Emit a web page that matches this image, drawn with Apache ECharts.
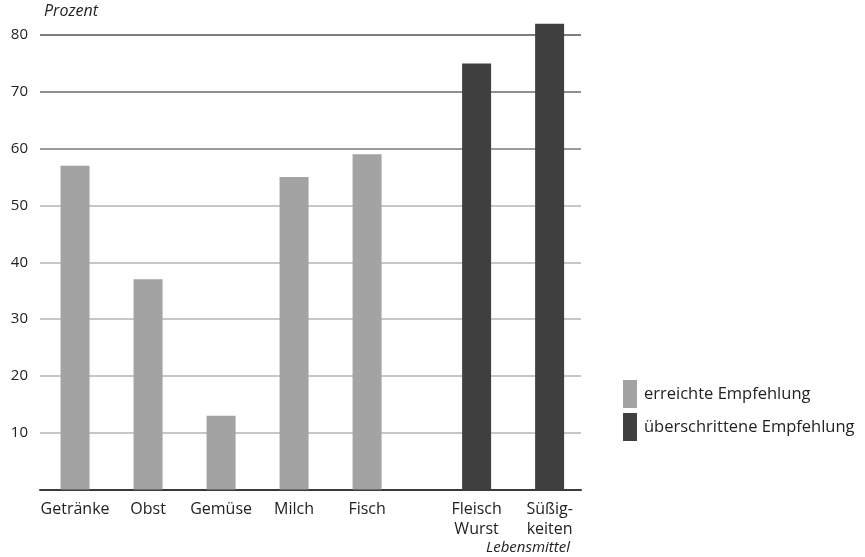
<!DOCTYPE html>
<html>
<head>
<meta charset="utf-8">
<script src="https://cdn.jsdelivr.net/npm/echarts@6/dist/echarts.min.js"></script>
<style>
  html, body { margin: 0; padding: 0; background: #fff; }
  #chart { width: 865px; height: 557px; }
</style>
</head>
<body>
<div id="chart"></div>
<script>
// Food groups, placed on a numeric x scale so the last two stand apart
const reachedNames = ['Getränke', 'Obst', 'Gemüse', 'Milch', 'Fisch'];
const reachedPos = [0, 1, 2, 3, 4];
const reachedValues = [57, 37, 13, 55, 59];

const exceededNames = ['Fleisch\nWurst', 'Süßig-\nkeiten'];
const exceededPos = [5.5, 6.5];
const exceededValues = [75, 82];

const yTicks = [10, 20, 30, 40, 50, 60, 70, 80];

const FONT = '"Open Sans", sans-serif';
const TEXT = '#222';

const labelByPos = {};
reachedPos.forEach((p, i) => { labelByPos[p] = reachedNames[i]; });
exceededPos.forEach((p, i) => { labelByPos[p] = exceededNames[i]; });

const chart = echarts.init(document.getElementById('chart'), null, { renderer: 'canvas' });

chart.setOption({
  animation: false,
  backgroundColor: '#fff',
  grid: { left: 40, right: 284, top: 35, bottom: 67.5, containLabel: false },
  xAxis: {
    type: 'value',
    min: -0.48,
    max: 6.93,
    splitLine: { show: false },
    axisTick: { show: false },
    axisLine: { show: true, onZero: false, lineStyle: { color: '#3a3a3a', width: 2 } },
    axisLabel: {
      customValues: reachedPos.concat(exceededPos),
      formatter: v => labelByPos[v] || '',
      fontFamily: FONT,
      fontSize: 16,
      color: TEXT,
      margin: 10,
      lineHeight: 20
    }
  },
  yAxis: {
    type: 'value',
    min: 0,
    max: 80,
    interval: 10,
    axisLine: { show: false },
    axisTick: { show: false },
    axisLabel: {
      customValues: yTicks,
      fontFamily: FONT,
      fontSize: 15,
      color: TEXT,
      margin: 12
    },
    splitLine: {
      show: true,
      lineStyle: {
        color: ['#ffffff', '#b4b4b4', '#b4b4b4', '#b4b4b4', '#b4b4b4', '#b4b4b4', '#7a7a7a', '#6a6a6a', '#555555'],
        width: 1.5
      }
    }
  },
  legend: {
    orient: 'vertical',
    left: 618,
    top: 375,
    itemWidth: 14,
    itemHeight: 28,
    itemGap: 5,
    icon: 'rect',
    textStyle: { fontFamily: FONT, fontSize: 16.5, color: TEXT, padding: [0, 0, 0, 2] },
    data: ['erreichte Empfehlung', 'überschrittene Empfehlung']
  },
  graphic: [
    {
      type: 'text', left: 44, top: 3,
      style: { text: 'Prozent', font: 'italic 16px "Open Sans", sans-serif', fill: TEXT }
    },
    {
      type: 'text', left: 486, top: 540,
      style: { text: 'Lebensmittel', font: 'italic 15px "Open Sans", sans-serif', fill: TEXT }
    }
  ],
  series: [
    {
      name: 'erreichte Empfehlung',
      type: 'bar',
      clip: false,
      barWidth: 29,
      barGap: '-100%',
      itemStyle: { color: '#a3a3a3' },
      data: reachedPos.map((p, i) => [p, reachedValues[i]])
    },
    {
      name: 'überschrittene Empfehlung',
      type: 'bar',
      clip: false,
      barWidth: 29,
      barGap: '-100%',
      itemStyle: { color: '#404040' },
      data: exceededPos.map((p, i) => [p, exceededValues[i]])
    }
  ]
});
</script>
</body>
</html>
